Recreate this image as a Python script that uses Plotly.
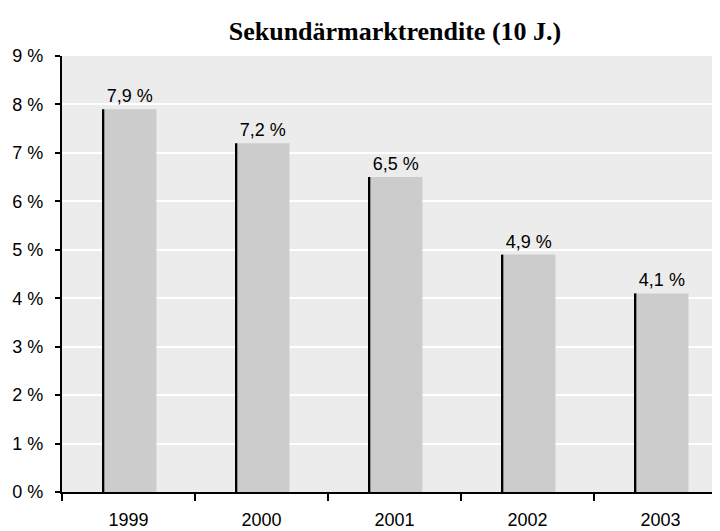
import plotly.graph_objects as go

# Datos
anios = ["1999", "2000", "2001", "2002", "2003"]
rendite = [7.9, 7.2, 6.5, 4.9, 4.1]
y_ticks = [0, 1, 2, 3, 4, 5, 6, 7, 8, 9]
y_ticktext = [f"{v} %" for v in y_ticks]

FONT_FAMILY = "Liberation Sans, Arial, sans-serif"
TEXT_COLOR = "#000000"

fig = go.Figure()

# Barras principales
fig.add_trace(go.Bar(
    x=anios,
    y=rendite,
    width=0.4,
    offset=-0.19,
    marker=dict(color="#cccccc", line=dict(width=0)),
    texttemplate="%{y:.1f} %",
    textposition="outside",
    textfont=dict(size=18, color=TEXT_COLOR, family=FONT_FAMILY),
    cliponaxis=False,
    hovertemplate="%{x}: %{y:.1f} %<extra></extra>",
))

# Borde izquierdo oscuro de cada barra
fig.add_trace(go.Bar(
    x=anios,
    y=rendite,
    width=0.014,
    offset=-0.196,
    marker=dict(color="#000000", line=dict(width=0)),
    hoverinfo="skip",
))

# la página tiene 8px de margen en el body: figura algo más pequeña
fig.update_layout(
    width=712,
    height=523,
    barmode="overlay",
    showlegend=False,
    separators=", ",
    title=dict(
        text="<b>Sekundärmarktrendite (10 J.)</b>",
        x=0.5435, xanchor="center",
        y=0.956, yanchor="middle",
        font=dict(size=26, color=TEXT_COLOR, family="Liberation Serif, Times New Roman, serif"),
    ),
    margin=dict(l=54, r=0, t=48, b=39),
    paper_bgcolor="#ffffff",
    plot_bgcolor="#ececec",
    font=dict(family=FONT_FAMILY, size=18, color=TEXT_COLOR),
    xaxis=dict(
        type="category",
        range=[-0.5, 4.447],
        showgrid=False,
        showline=True, linecolor="#000000", linewidth=2,
        ticks="outside", tickson="boundaries", ticklen=7, tickwidth=2, tickcolor="#000000",
        ticklabelstandoff=10,
        tickfont=dict(size=18),
    ),
    yaxis=dict(
        range=[0, 9],
        tickmode="array",
        tickvals=y_ticks,
        ticktext=y_ticktext,
        showgrid=True, gridcolor="#ffffff", gridwidth=2,
        showline=True, linecolor="#000000", linewidth=2,
        ticks="outside", ticklen=5, tickwidth=2, tickcolor="#000000",
        ticklabelstandoff=8,
        zeroline=False,
        tickfont=dict(size=18),
    ),
)

fig.write_html("out.html")
